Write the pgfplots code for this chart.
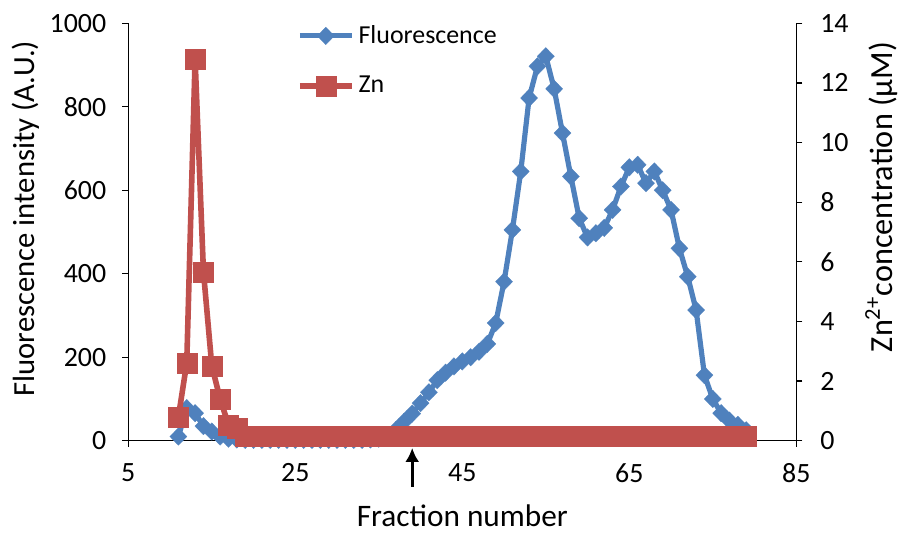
\documentclass[border=0pt]{standalone}
\usepackage{fontspec}
\setmainfont{Carlito}
\usepackage{pgfplots}
\usepackage{pgfplotstable}
\pgfplotsset{compat=1.18}
\usetikzlibrary{arrows.meta}

\definecolor{fluoblue}{HTML}{4F81BD}
\definecolor{znred}{HTML}{C0504D}

% Fluorescence intensity per fraction
\pgfplotstableread{
frac val
11 10
12 78
13 66
14 35
15 22
16 10
17 5
18 3
19 2
20 2
21 2
22 2
23 2
24 2
25 2
26 2
27 2
28 2
29 2
30 2
31 2
32 2
33 2
34 3
35 5
36 8
37 25
38 45
39 65
40 90
41 116
42 145
43 163
44 178
45 190
46 200
47 213
48 232
49 282
50 381
51 505
52 645
53 821
54 897
55 921
56 843
57 737
58 633
59 533
60 487
61 497
62 510
63 553
64 609
65 655
66 661
67 617
68 645
69 600
70 553
71 461
72 393
73 313
74 157
75 100
76 66
77 48
78 38
79 25
}\fluotable

% Zn2+ concentration (uM) per fraction
\pgfplotstableread{
frac val
11 0.80
12 2.61
13 12.8
14 5.67
15 2.51
16 1.40
17 0.53
18 0.42
19 0.17
20 0.17
21 0.17
22 0.17
23 0.17
24 0.17
25 0.17
26 0.17
27 0.17
28 0.17
29 0.17
30 0.17
31 0.17
32 0.17
33 0.17
34 0.17
35 0.17
36 0.17
37 0.17
38 0.17
39 0.17
40 0.17
41 0.17
42 0.17
43 0.17
44 0.17
45 0.17
46 0.17
47 0.17
48 0.17
49 0.17
50 0.17
51 0.17
52 0.17
53 0.17
54 0.17
55 0.17
56 0.17
57 0.17
58 0.17
59 0.17
60 0.17
61 0.17
62 0.17
63 0.17
64 0.17
65 0.17
66 0.17
67 0.17
68 0.17
69 0.17
70 0.17
71 0.17
72 0.17
73 0.17
74 0.17
75 0.17
76 0.17
77 0.17
78 0.17
79 0.17
}\zntable

\pgfplotsset{
  fluostyle/.style={color=fluoblue, line width=2.6bp, mark=diamond*, mark size=4.4bp,
    mark options={solid, line width=0.1bp, fill=fluoblue, xscale=1.3}},
  znstyle/.style={color=znred, line width=2.8bp, mark=square*, mark size=5bp,
    mark options={solid, line width=0.1bp, fill=znred}},
  common/.style={
    scale only axis, width=334bp, height=208.7bp,
    xmin=5, xmax=85,
    tick align=outside, major tick length=3bp,
    axis line style={line width=0.6bp, black},
    every tick/.style={line width=0.6bp, black},
    tick label style={font=\fontsize{14}{16}\selectfont},
    /pgf/number format/assume math mode=true,
    /pgf/number format/1000 sep={},
    clip=false,
  },
}

\begin{document}
\begin{tikzpicture}
\begin{axis}[common, name=ax,
  ymin=0, ymax=1000,
  axis y line*=left, axis x line*=bottom,
  xtick={5,25,45,65,85}, ytick={0,200,400,600,800,1000},
  xticklabel style={yshift=-5bp},
  yticklabel style={xshift=-4.5bp},
  xlabel={Fraction number},
  ylabel={Fluorescence intensity (A.U.)},
  xlabel style={font=\fontsize{15.7}{18}\selectfont, yshift=-4bp},
  ylabel style={font=\fontsize{15.4}{18}\selectfont, at={(ticklabel cs:0.532,-1.5bp)}},
]
\addplot[fluostyle] table[x=frac, y=val] {\fluotable};
\draw[line width=1.7bp, -{Latex[length=7bp,width=7bp]}]
  ([yshift=-23bp]axis cs:39,0) -- ([yshift=-3.6bp]axis cs:39,0);
\end{axis}
\begin{axis}[common,
  ymin=0, ymax=14,
  axis y line*=right, axis x line=none,
  ytick={0,2,...,14},
  yticklabel style={xshift=5.5bp},
  ylabel={Zn\textsuperscript{2+}concentration (μM)},
  ylabel style={font=\fontsize{16.2}{18}\selectfont, at={(ticklabel cs:0.584,1.5bp)}},
  legend style={draw=none, fill=none, at={(axis description cs:0.243,1.015)}, anchor=north west,
    font=\fontsize{13}{15}\selectfont, row sep=11bp,
    legend cell align=left},
  legend image code/.code={\draw[#1, mark repeat=2, mark phase=2] plot coordinates {(0bp,0bp) (13bp,0bp) (26bp,0bp)};},
]
\addlegendimage{fluostyle}
\addlegendentry{Fluorescence}
\addplot[znstyle] table[x=frac, y=val] {\zntable};
\addlegendentry{Zn}
\end{axis}
\pgfresetboundingbox
\path[use as bounding box] ([shift={(-64.15bp,-46.15bp)}]ax.south west) rectangle ([shift={(50.85bp,11.65bp)}]ax.north east);
\end{tikzpicture}
\end{document}
